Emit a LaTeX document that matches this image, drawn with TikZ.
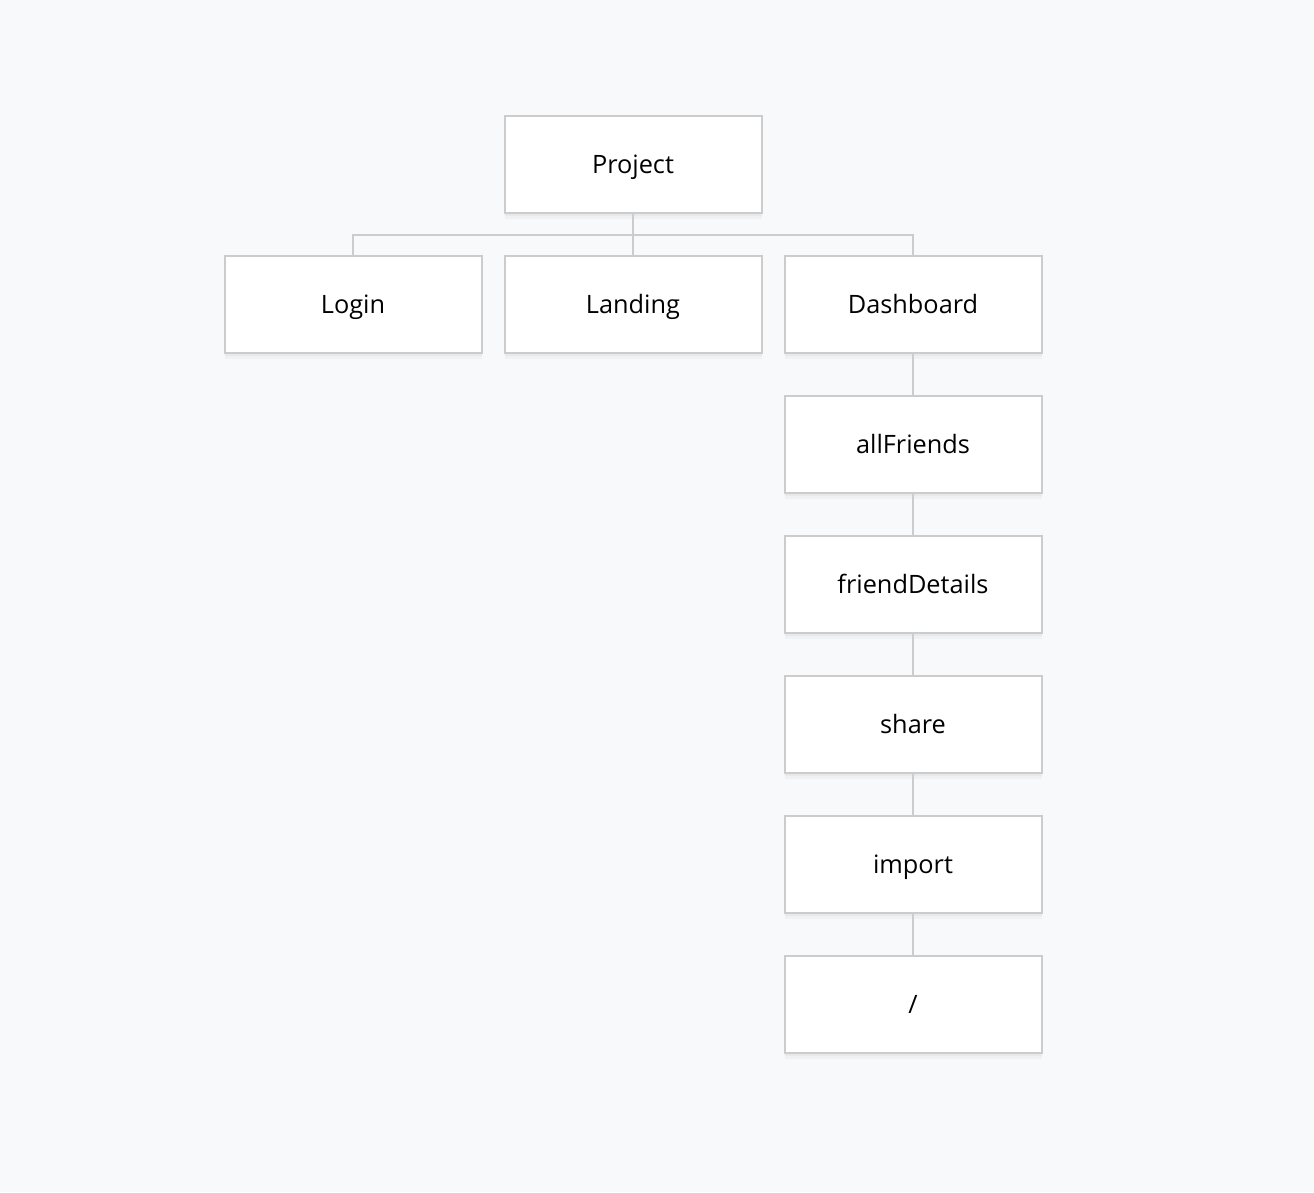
\documentclass[tikz,border=0pt]{standalone}
\usepackage{fontspec}
\setmainfont{Open Sans}
\definecolor{bg}{HTML}{F8F9FB}
\definecolor{edge}{HTML}{CCCCCC}
\begin{document}
\begin{tikzpicture}[x=1pt,y=-1pt,
  box/.style={draw=edge,line width=2pt,fill=white,minimum width=257pt,minimum height=97pt,
    inner sep=0pt,font=\fontsize{25.3}{30}\selectfont,text=black,text height=19pt,text depth=0pt,
    preaction={fill=black,fill opacity=0.03,draw=none,transform canvas={yshift=-6pt}},
    preaction={fill=black,fill opacity=0.03,draw=none,transform canvas={yshift=-3pt}}},
  link/.style={draw=edge,line width=2pt}]
\fill[bg] (0,0) rectangle (1314,1192);
\useasboundingbox (0,0) rectangle (1314,1192);
\node[box] (project) at (633,164) {Project};
\node[box] (login) at (353,304) {Login};
\node[box] (landing) at (633,304) {Landing};
\node[box] (dash) at (913,304) {Dashboard};
\node[box] (allf) at (913,444) {allFriends};
\node[box] (fdet) at (913,584) {friendDetails};
\node[box] (share) at (913,724) {share};
\node[box] (import) at (913,864) {import};
\node[box] (root) at (913,1004) {/};
\coordinate (bus) at (633,235);
\draw[link] (project.south) -- (bus);
\draw[link] (login.north) -- (login.north |- bus) -- (dash.north |- bus) -- (dash.north);
\draw[link] (bus) -- (landing.north);
\draw[link] (dash.south) -- (allf.north);
\draw[link] (allf.south) -- (fdet.north);
\draw[link] (fdet.south) -- (share.north);
\draw[link] (share.south) -- (import.north);
\draw[link] (import.south) -- (root.north);
\end{tikzpicture}
\end{document}
